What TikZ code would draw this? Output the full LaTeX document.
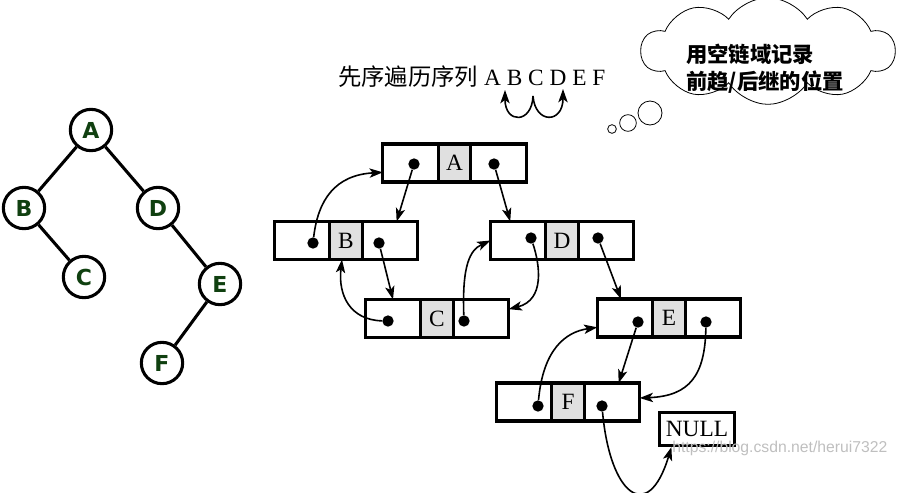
\documentclass[tikz,border=0pt]{standalone}
\usepackage{fontspec}
\setmainfont{Liberation Serif}
\newfontfamily\cjk{Noto Sans CJK SC}
\newfontfamily\treefont{DejaVu Sans}
\newfontfamily\markfont{Liberation Sans}
\usepackage{tikz}
\usetikzlibrary{arrows.meta,calc,positioning,shapes.symbols}
\definecolor{treegreen}{RGB}{16,64,16}
\definecolor{cellgray}{RGB}{224,224,224}

\begin{document}
\begin{tikzpicture}[
  x=0.75pt,y=-0.75pt,
  treenode/.style={on grid,circle,draw,line width=2.3pt,minimum size=31pt,inner sep=0pt,
    font=\treefont\bfseries\fontsize{16.5}{18}\selectfont,text=treegreen},
  edge/.style={line width=2.3pt},
  ptrcell/.style={draw,line width=2.4pt,outer sep=0pt,inner sep=0pt,minimum width=41.5pt,minimum height=28.5pt},
  datacell/.style={ptrcell,fill=cellgray,minimum width=24.5pt,font=\fontsize{17.5}{20}\selectfont},
  dot/.style={circle,fill=black,inner sep=0pt,minimum size=8.5pt},
  link/.style={-{Stealth[length=10pt,width=7pt,inset=2.5pt]},line width=1.2pt},
  bubble/.style={circle,draw,line width=0.6pt,inner sep=0pt}
]
\useasboundingbox (0,0) rectangle (897,493);

% binary tree
\node[treenode] (tA) at (91,130) {A};
\node[treenode,below left=58.5pt and 50.25pt of tA] (tB) {B};
\node[treenode,below right=58.5pt and 50.25pt of tA] (tD) {D};
\node[treenode,below right=51.75pt and 45pt of tB] (tC) {C};
\node[treenode,below right=57pt and 46.5pt of tD] (tE) {E};
\node[treenode,below left=59.25pt and 43.5pt of tE] (tF) {F};
\draw[edge] (tA) -- (tB);
\draw[edge] (tA) -- (tD);
\draw[edge] (tB) -- (tC);
\draw[edge] (tD) -- (tE);
\draw[edge] (tE) -- (tF);

% preorder sequence
\node[anchor=base west,inner sep=0pt,font=\fontsize{17.5}{20}\selectfont] (seq) at (338,85)
  {{\cjk 先序遍历序列} A B C D E F};
\coordinate (cfoot) at (533,96);
\coordinate (pred) at (505,90);
\coordinate (succ) at (563,89);
\draw[link] (cfoot) .. controls (532,124) and (505,124) .. (pred);
\draw[link] (cfoot) .. controls (535,124) and (563,124) .. (succ);

% thought cloud
\node[cloud,draw,line width=0.6pt,cloud puffs=10,cloud puff arc=115,cloud ignores aspect,
  minimum width=190pt,minimum height=80pt] (thought) at (768,51) {};
\node[bubble,minimum size=18pt] (bub1) at (650,113) {};
\node[bubble,minimum size=12.5pt] (bub2) at (628,123) {};
\node[bubble,minimum size=6.5pt] (bub3) at (612,129) {};
\node[anchor=north west,inner sep=0pt,align=left,font=\cjk\bfseries\fontsize{16}{20}\selectfont] (memo) at (686,44)
  {用空链域记录\\前趋/后继的位置};

% threaded list
\node[datacell] (A) at (454.5,163) {A};
\node[ptrcell,left=0pt of A] (Al) {};
\node[ptrcell,right=0pt of A] (Ar) {};
\node[datacell] (B) at (346,240.5) {B};
\node[ptrcell,left=0pt of B] (Bl) {};
\node[ptrcell,right=0pt of B] (Br) {};
\node[datacell] (D) at (562,240.5) {D};
\node[ptrcell,left=0pt of D] (Dl) {};
\node[ptrcell,right=0pt of D] (Dr) {};
\node[datacell] (C) at (437,318.5) {C};
\node[ptrcell,left=0pt of C] (Cl) {};
\node[ptrcell,right=0pt of C] (Cr) {};
\node[datacell] (E) at (669,318) {E};
\node[ptrcell,left=0pt of E] (El) {};
\node[ptrcell,right=0pt of E] (Er) {};
\node[datacell] (F) at (568,402) {F};
\node[ptrcell,left=0pt of F] (Fl) {};
\node[ptrcell,right=0pt of F] (Fr) {};
\node[draw,line width=2.2pt,minimum width=56pt,minimum height=25pt,inner sep=0pt,
  font=\fontsize{17.5}{20}\selectfont] (null) at (697,429) {NULL};

\node[dot] (Ald) at (414,164) {};
\node[dot] (Ard) at (494,164) {};
\node[dot] (Bld) at (313,243) {};
\node[dot] (Brd) at (379,243) {};
\node[dot] (Dld) at (531,238) {};
\node[dot] (Drd) at (598,238) {};
\node[dot] (Cld) at (388,321) {};
\node[dot] (Crd) at (464,321) {};
\node[dot] (Eld) at (638,322) {};
\node[dot] (Erd) at (706,322) {};
\node[dot] (Fld) at (538,406) {};
\node[dot] (Frd) at (602,406) {};

\draw[link] (Ald) -- ($(Br.north west)!0.62!(Br.north east)$);
\draw[link] (Ard) -- ($(Dl.north west)!0.36!(Dl.north east)$);
\draw[link] (Bld) .. controls (318,200) and (335,175) .. ([yshift=-7pt]Al.west);
\draw[link] (Brd) -- (Cl.north);
\draw[link] (Cld) .. controls (350,320) and (338,295) .. ([xshift=-3pt]B.south);
\draw[link] (Crd) .. controls (462,265) and (470,250) .. (Dl.west);
\draw[link] (Dld) .. controls (540,265) and (545,300) .. ([yshift=7pt]Cr.east);
\draw[link] (Drd) -- ([xshift=-3pt]El.north);
\draw[link] (Eld) -- ([xshift=5pt]Fr.north);
\draw[link] (Fld) .. controls (543,350) and (565,332) .. ([yshift=-7pt]El.west);
\draw[link] (Erd) .. controls (705,375) and (690,396) .. ([yshift=3pt]Fr.east);
\draw[link] (Frd) .. controls (610,495) and (648,525) .. ($(null.south west)!0.17!(null.south east)$);

\node[anchor=base west,inner sep=0pt,text=black!25,font=\markfont\fontsize{11.8}{14}\selectfont] (mark) at (672,452)
  {https://blog.csdn.net/herui7322};
\end{tikzpicture}
\end{document}
